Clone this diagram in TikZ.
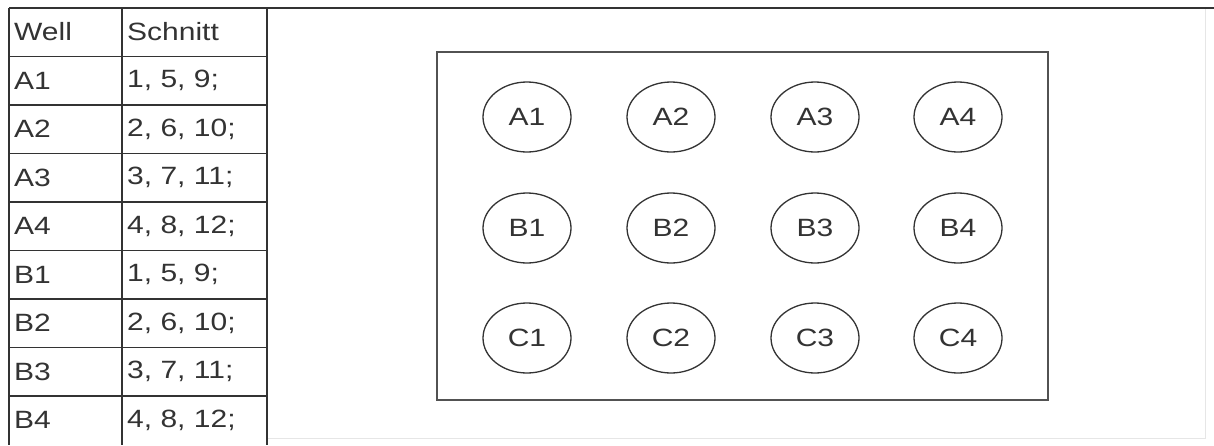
\documentclass[tikz,border=0pt]{standalone}
\usepackage{fontspec}
\setmainfont{Liberation Sans}
\newfontfamily\widesans[FakeStretch=1.2]{Liberation Sans}
\usetikzlibrary{shapes.geometric}
\definecolor{ink}{HTML}{333333}
\definecolor{faint}{HTML}{E6E6E6}
\begin{document}
\begin{tikzpicture}[x=1pt,y=-1pt,
  grid/.style={draw=ink,line width=1.6pt},
  celltext/.style={anchor=west,inner sep=0pt,text=ink,font=\widesans\fontsize{25}{25}\selectfont},
  well/.style={draw=ink,line width=1.3pt,ellipse,minimum width=88pt,minimum height=70pt,inner sep=0pt,text=ink,font=\widesans\fontsize{25}{25}\selectfont},
  plate/.style={draw=ink!85,line width=1.5pt}]
\useasboundingbox (0,0) rectangle (1214,445);
% faint outer frame
\draw[faint,line width=1pt] (1205,8) -- (1205,438) -- (267,438);
% top line across
\draw[grid] (9,8) -- (1214,8);
% table
\foreach \y in {56.5,105,153.5,202,250.5,299,347.5,396}
  \draw[grid] (9,\y) -- (267,\y);
\draw[grid] (9,8) -- (9,445);
\draw[grid] (122,8) -- (122,445);
\draw[grid] (267,8) -- (267,445);
% texts
\node[celltext] (h1) at (14,32) {Well};
\node[celltext] (h2) at (127,32) {Schnitt};
\foreach \w/\s [count=\i] in {A1/{1, 5, 9;},A2/{2, 6, 10;},A3/{3, 7, 11;},A4/{4, 8, 12;},B1/{1, 5, 9;},B2/{2, 6, 10;},B3/{3, 7, 11;},B4/{4, 8, 12;}}{
  \node[celltext] (w\i) at (14,{32+48.5*\i}) {\w};
  \node[celltext] (s\i) at (127,{32+48.5*\i}) {\s};
}
% plate
\draw[plate] (437,52) rectangle (1048,400);
\foreach \r/\yy in {A/117,B/228,C/338}
  \foreach \c/\xx in {1/527,2/671,3/815,4/958}
    \node[well] (\r\c) at (\xx,\yy) {\r\c};
\end{tikzpicture}
\end{document}
